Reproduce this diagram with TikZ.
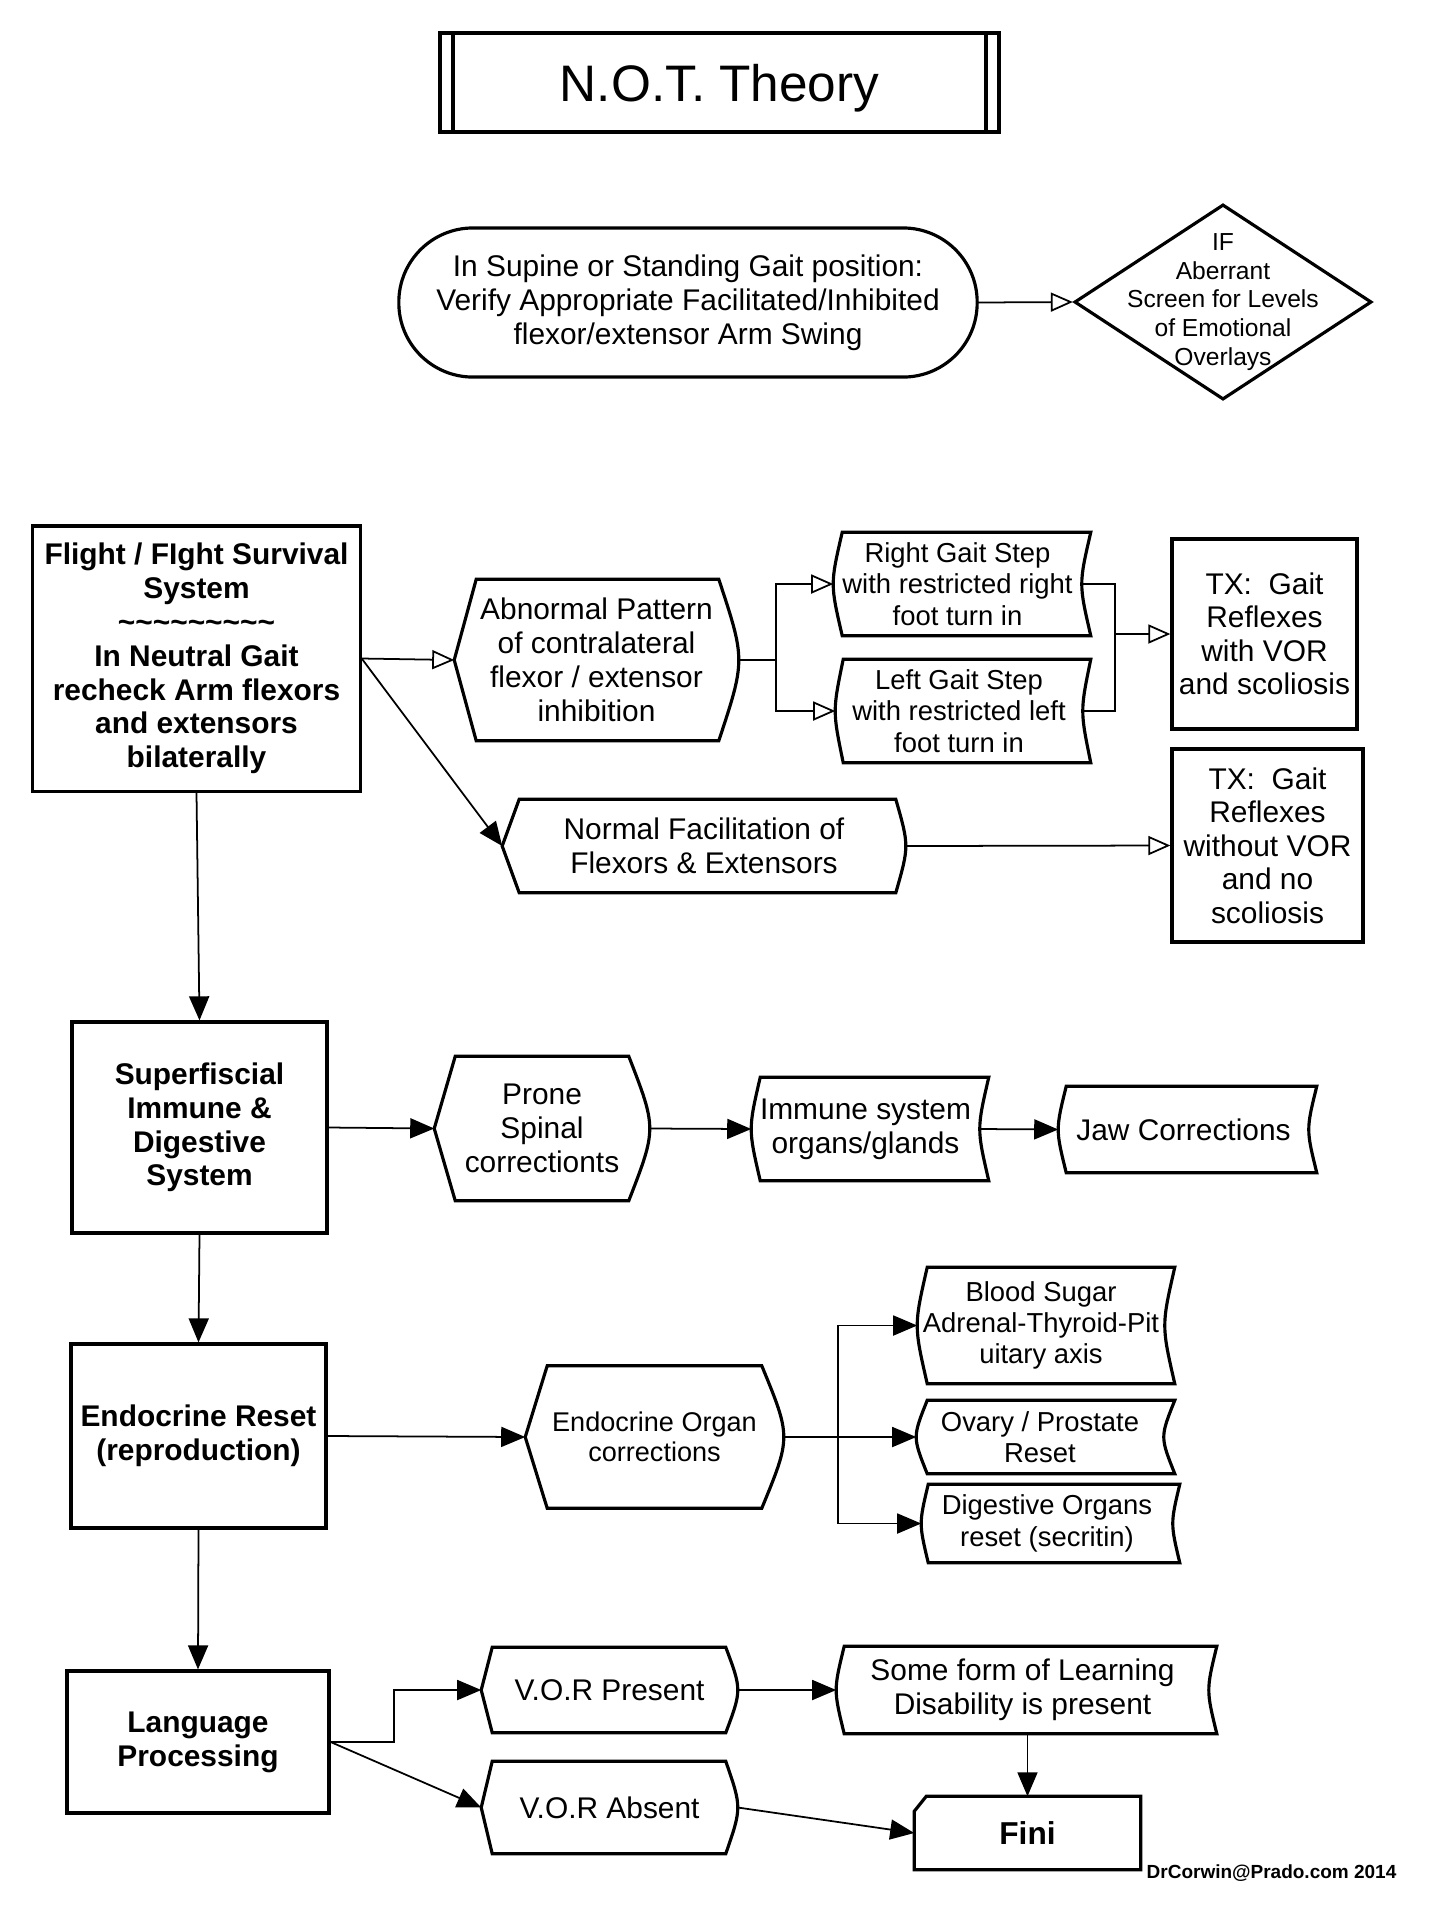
\documentclass[tikz,border=0pt]{standalone}
\usepackage{fontspec}
\setmainfont{Liberation Sans}
\usetikzlibrary{arrows.meta,calc,shapes.geometric}
\newcommand{\tildeline}{\textasciitilde\textasciitilde\textasciitilde\textasciitilde\textasciitilde\textasciitilde\textasciitilde\textasciitilde\textasciitilde}

\begin{document}
\begin{tikzpicture}[x=0.01cm,y=-0.01cm,
  >={Triangle[length=0.24cm,width=0.2cm]},
  line/.style={line width=0.5pt},
  arr/.style={line,->},
  openarr/.style={line,-{Triangle[open,length=0.22cm,width=0.19cm]}},
  outline/.style={line width=0.9pt,line join=miter},
  bigbox/.style={draw,line width=0.9pt,align=center,inner sep=0pt,font=\fontsize{8.5}{9.6}\selectfont\bfseries},
  txbox/.style={draw,line width=0.9pt,align=center,inner sep=0pt,font=\fontsize{8.5}{9.5}\selectfont},
  shapetext/.style={align=center,inner sep=0pt,font=\fontsize{8.5}{9.7}\selectfont},
  smalltext/.style={align=center,inner sep=0pt,font=\fontsize{7.8}{8.9}\selectfont}]
\useasboundingbox (0,0) rectangle (1437,1917);

% title
\node[draw,line width=1.1pt,minimum width=5.59cm,minimum height=0.99cm,text depth=0pt,font=\fontsize{14.6}{16}\selectfont] (title) at (719.5,82.5) {N.O.T. Theory};
\draw[line width=1.1pt] ($(title.north west)+(15,0)$) -- ($(title.south west)+(15,0)$);
\draw[line width=1.1pt] ($(title.north east)+(-15,0)$) -- ($(title.south east)+(-15,0)$);

% first check
\node[draw,line width=0.9pt,rounded corners=0.74cm,minimum width=5.78cm,minimum height=1.49cm,shapetext] (start) at (688,302.5) {In Supine or Standing Gait position:\\Verify Appropriate Facilitated/Inhibited\\flexor/extensor Arm Swing};
\node[draw,diamond,line width=0.9pt,minimum width=2.97cm,minimum height=1.95cm,inner sep=0pt,
  label={[align=center,font=\fontsize{7}{8.2}\selectfont]center:{IF\\Aberrant\\Screen for Levels\\of Emotional\\Overlays}}] (ifnode) at (1223,302) {};

% flight / fight row
\node[bigbox,minimum width=3.27cm,minimum height=2.65cm] (flight) at (196.5,658.5) {Flight / FIght Survival\\System\\\tildeline\\In Neutral Gait\\recheck Arm flexors\\and extensors\\bilaterally};
\node[shapetext,minimum width=2.83cm,minimum height=1.6cm] (abn) at (596.5,660) {Abnormal Pattern\\of contralateral\\flexor / extensor\\inhibition};
\node[smalltext,minimum width=2.47cm,minimum height=1.02cm] (rgait) at (957.5,584) {Right Gait Step\\with restricted right\\foot turn in};
\node[smalltext,minimum width=2.46cm,minimum height=1.02cm] (lgait) at (959,711) {Left Gait Step\\with restricted left\\foot turn in};
\node[txbox,minimum width=1.85cm,minimum height=1.9cm] (tx1) at (1264.5,634) {TX:\ \ Gait\\Reflexes\\with VOR\\and scoliosis};
\node[shapetext,minimum width=4.02cm,minimum height=0.92cm] (normal) at (704,846) {Normal Facilitation of\\Flexors \& Extensors};
\node[txbox,minimum width=1.91cm,minimum height=1.93cm] (tx2) at (1267.5,845.5) {TX:\ \ Gait\\Reflexes\\without VOR\\and no\\scoliosis};

% immune row
\node[bigbox,minimum width=2.55cm,minimum height=2.11cm] (superf) at (199.5,1127.5) {Superfiscial\\Immune \&\\Digestive\\System};
\node[shapetext,minimum width=2.14cm,minimum height=1.43cm] (prone) at (542,1128.5) {Prone\\Spinal\\correctionts};
\node[shapetext,minimum width=2.27cm,minimum height=1.02cm] (immune) at (865.5,1129) {Immune system\\organs/glands};
\node[shapetext,minimum width=2.49cm,minimum height=0.85cm] (jaw) at (1183.5,1129.5) {Jaw Corrections};

% endocrine row
\node[bigbox,minimum width=2.55cm,minimum height=1.84cm] (endo) at (198.5,1436) {Endocrine Reset\\(reproduction)};
\node[align=center,inner sep=0pt,font=\fontsize{7.7}{8.6}\selectfont,minimum width=2.57cm,minimum height=1.41cm] (endorg) at (654.5,1437) {Endocrine Organ\\corrections};
\node[smalltext,minimum width=2.46cm,minimum height=1.15cm] (blood) at (1041,1325.5) {Blood Sugar\\Adrenal-Thyroid-Pit\\uitary axis};
\node[smalltext,minimum width=2.46cm,minimum height=0.72cm] (ovary) at (1040,1437) {Ovary / Prostate\\Reset};
\node[smalltext,minimum width=2.5cm,minimum height=0.77cm] (digest) at (1047,1523.5) {Digestive Organs\\reset (secritin)};

% language row
\node[bigbox,minimum width=2.62cm,minimum height=1.42cm] (lang) at (198,1742) {Language\\Processing};
\node[shapetext,minimum width=2.55cm,minimum height=0.84cm] (vorp) at (609.5,1690) {V.O.R Present};
\node[shapetext,minimum width=2.55cm,minimum height=0.91cm] (vora) at (609.5,1807.5) {V.O.R Absent};
\node[shapetext,minimum width=3.71cm,minimum height=0.86cm] (learn) at (1022.5,1690) {Some form of Learning\\Disability is present};
\node[shapetext,font=\fontsize{9}{10}\selectfont\bfseries,minimum width=2.25cm,minimum height=0.72cm] (fini) at (1027.5,1833) {Fini};
\node[anchor=west,inner sep=0pt,font=\fontsize{5.4}{6}\selectfont\bfseries] (credit) at (1146,1873) {DrCorwin@Prado.com 2014};

% display outlines: pointed left, curved right
\foreach \n/\a/\b in {abn/22/20,normal/17/10,prone/21/21,endorg/22/22,vorp/11/12,vora/11/12}
  \draw[outline] (\n.west) -- ($(\n.north west)+(\a,0)$) -- ($(\n.north east)+(-\b,0)$)
    .. controls ($(\n.east)+(\b/3,0)$) .. ($(\n.south east)+(-\b,0)$) -- ($(\n.south west)+(\a,0)$) -- cycle;
% stored data outlines: both sides curved
\foreach \n/\d in {rgait/9,lgait/8,immune/9,jaw/8,blood/10,ovary/11,digest/7,learn/8}
  \draw[outline] ($(\n.north west)+(\d,0)$) -- ($(\n.north east)+(\d,0)$)
    .. controls ($(\n.east)+(-\d/3,0)$) .. ($(\n.south east)+(\d,0)$) -- ($(\n.south west)+(\d,0)$)
    .. controls ($(\n.west)+(-\d/3,0)$) .. ($(\n.north west)+(\d,0)$) -- cycle;
% card for the end
\draw[outline] ($(fini.north west)+(12,0)$) -- (fini.north east) -- (fini.south east) -- (fini.south west) -- ($(fini.north west)+(0,15)$) -- cycle;

% connectors
\draw[openarr] (start.east) -- (ifnode.west);
\draw[openarr] (flight.east) -- (abn.west);
\draw[arr] (flight.east) -- (normal.west);
\draw[openarr] (abn.east) -- ++(37,0) |- (rgait.west);
\draw[openarr] (abn.east) -- ++(37,0) |- (lgait.west);
\coordinate (merge) at (1115,634);
\draw[line] (rgait.east) -| (merge);
\draw[line] (lgait.east) -| (merge);
\draw[openarr] (merge) -- (tx1.west);
\draw[openarr] (normal.east) -- (tx2.west);

\draw[arr] (flight.south) -- (superf.north);
\draw[arr] (superf.east) -- (prone.west);
\draw[arr] (prone.east) -- (immune.west);
\draw[arr] (immune.east) -- (jaw.west);

\draw[arr] (superf.south) -- (endo.north);
\draw[arr] (endo.east) -- (endorg.west);
\coordinate (split) at (838,1437);
\draw[line] (endorg.east) -- (split);
\draw[arr] (split) |- (blood.west);
\draw[arr] (split) -- (ovary.west);
\draw[arr] (split) |- (digest.west);

\draw[arr] (endo.south) -- (lang.north);
\draw[arr] (lang.east) -- ++(63,0) |- (vorp.west);
\draw[arr] (lang.east) -- (vora.west);
\draw[arr] (vorp.east) -- (learn.west);
\draw[arr] (vora.east) -- (fini.west);
\draw[arr] (fini.north |- learn.south) -- (fini.north);
\end{tikzpicture}
\end{document}
